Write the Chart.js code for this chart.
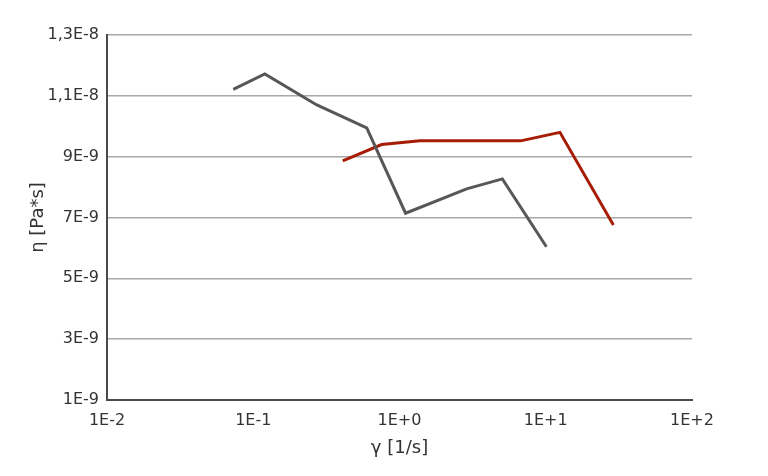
<!DOCTYPE html>
<html lang="de">
<head>
<meta charset="UTF-8">
<title>Viskosität</title>
<script src="https://cdn.jsdelivr.net/npm/chart.js"></script>
<style>
  html, body { margin: 0; padding: 0; background: #fff; }
  #wrap { width: 768px; height: 476px; }
</style>
</head>
<body>
<div id="wrap"><canvas id="myChart"></canvas></div>
<script>
    // Daten
    const grayShear = [0.073, 0.12, 0.272, 0.597, 1.10, 2.88, 5.05, 10.1];
    const grayVisc = [1.121e-8, 1.172e-8, 1.070e-8, 0.995e-8, 0.714e-8, 0.794e-8, 0.827e-8, 0.604e-8];
    const redShear = [0.409, 0.755, 1.38, 6.74, 12.5, 29.0];
    const redVisc = [0.886e-8, 0.940e-8, 0.952e-8, 0.952e-8, 0.980e-8, 0.675e-8];

    const xTickValues = [0.01, 0.1, 1, 10, 100];
    const xTickLabels = ['1E-2', '1E-1', '1E+0', '1E+1', '1E+2'];
    const yTickValues = [1e-9, 3e-9, 5e-9, 7e-9, 9e-9, 1.1e-8, 1.3e-8];
    const yTickLabels = ['1E-9', '3E-9', '5E-9', '7E-9', '9E-9', '1,1E-8', '1,3E-8'];

    const toPoints = (xs, ys) => xs.map((x, i) => ({ x: x, y: ys[i] }));

    const font = "'DejaVu Sans', Verdana, sans-serif";
    const ctx = document.getElementById('myChart');

    new Chart(ctx, {
        type: 'line',
        data: {
            datasets: [
                { data: toPoints(grayShear, grayVisc), borderColor: '#575757', borderWidth: 3, pointRadius: 0, fill: false, tension: 0 },
                { data: toPoints(redShear, redVisc), borderColor: '#a61c05', borderWidth: 3, pointRadius: 0, fill: false, tension: 0 }
            ]
        },
        options: {
            responsive: true,
            maintainAspectRatio: false,
            animation: false,
            layout: { padding: { left: 26, right: 76, top: 35, bottom: 15 } },
            plugins: { legend: { display: false }, tooltip: { enabled: false } },
            scales: {
                x: {
                    type: 'logarithmic',
                    min: 0.01,
                    max: 100,
                    afterBuildTicks: (axis) => { axis.ticks = xTickValues.map(v => ({ value: v })); },
                    afterFit: (axis) => { axis.height = 61; },
                    grid: { display: false, drawTicks: false },
                    border: { color: '#4a4a4a', width: 2 },
                    ticks: {
                        padding: 11,
                        color: '#333',
                        font: { family: font, size: 16 },
                        maxRotation: 0,
                        autoSkip: false,
                        callback: (v) => { const i = xTickValues.findIndex(t => Math.abs(Math.log10(t) - Math.log10(v)) < 1e-6); return i >= 0 ? xTickLabels[i] : ''; }
                    },
                    title: { display: true, text: 'γ [1/s]', color: '#333', font: { family: font, size: 18 }, padding: { top: 2, bottom: 2 } }
                },
                y: {
                    min: 1e-9,
                    max: 1.3e-8,
                    afterBuildTicks: (axis) => { axis.ticks = yTickValues.map(v => ({ value: v })); },
                    afterFit: (axis) => { axis.width = 81; },
                    grid: { color: '#a8a8a8', lineWidth: 1.5, drawTicks: false },
                    border: { color: '#4a4a4a', width: 2 },
                    ticks: {
                        padding: 8,
                        color: '#333',
                        font: { family: font, size: 16 },
                        callback: (v) => { const i = yTickValues.findIndex(t => Math.abs(t - v) < 1e-12); return i >= 0 ? yTickLabels[i] : ''; }
                    },
                    title: { display: true, text: 'η [Pa*s]', color: '#333', font: { family: font, size: 18 }, padding: { top: 2, bottom: 2 } }
                }
            }
        }
    });
</script>
</body>
</html>
